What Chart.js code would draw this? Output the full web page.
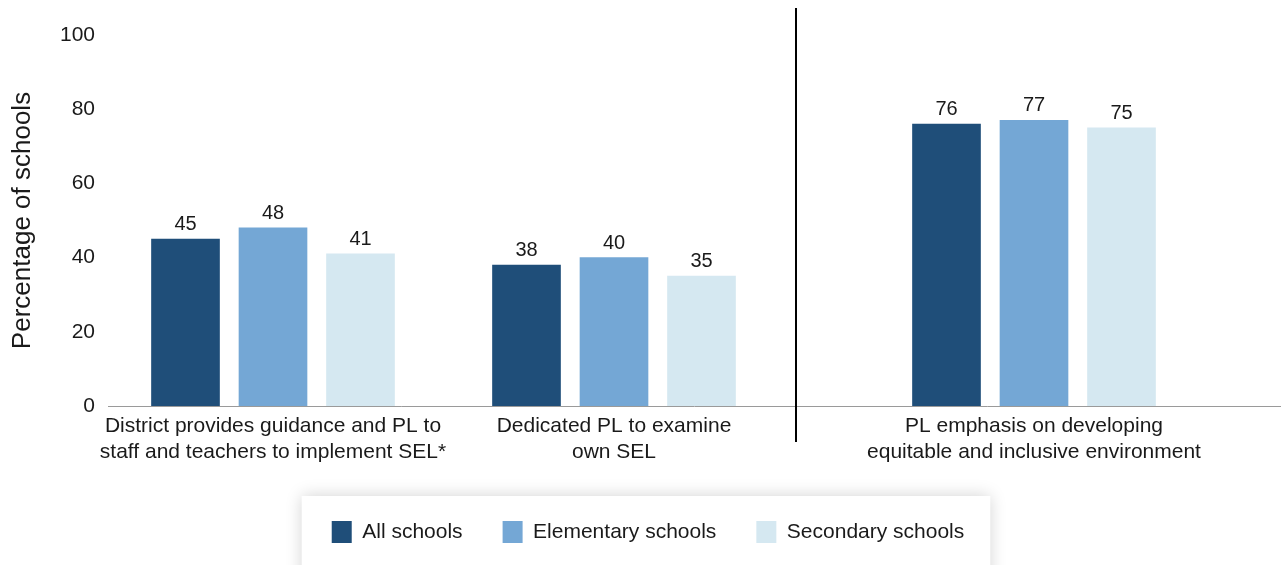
<!DOCTYPE html>
<html>
<head>
<meta charset="utf-8">
<script src="https://cdn.jsdelivr.net/npm/chart.js@4.4.1/dist/chart.umd.min.js"></script>
<style>
  html, body { margin: 0; padding: 0; background: #fff; }
  #wrap { width: 1281px; height: 565px; }
</style>
</head>
<body>
<div id="wrap"><canvas id="c" width="1281" height="565"></canvas></div>
<script>
// ---- data ----
const categories = [
  ['District provides guidance and PL to', 'staff and teachers to implement SEL*'],
  ['Dedicated PL to examine', 'own SEL'],
  ['PL emphasis on developing', 'equitable and inclusive environment']
];
const seriesNames = ['All schools', 'Elementary schools', 'Secondary schools'];
const allSchools = [45, 38, 76];
const elementarySchools = [48, 40, 77];
const secondarySchools = [41, 35, 75];
const yTicks = [0, 20, 40, 60, 80, 100];
const yTitle = 'Percentage of schools';

// ---- layout / style ----
const xSpan = 1172;                    // width of the x scale in its own units
const groupSlots = [165, 506, 926];    // where each group sits on the x scale
const dividerSlot = 688;               // separator between the 2nd and 3rd group
const colors = ['#1f4e79', '#74a7d5', '#d5e8f1'];
const FONT = '"Liberation Sans", Arial, Helvetica, sans-serif';
const TEXT = '#1a1a1a';

Chart.defaults.font.family = FONT;
Chart.defaults.color = TEXT;

const seriesValues = [allSchools, elementarySchools, secondarySchools];
const datasets = seriesNames.map((name, s) => ({
  label: name,
  data: seriesValues[s].map((v, i) => ({ x: groupSlots[i], y: v })),
  backgroundColor: colors[s],
  borderWidth: 0,
  barThickness: 87.5,
  maxBarThickness: 68
}));

const legendShift = {
  id: 'legendShift',
  afterLayout(chart) {
    if (chart.legend) { chart.legend.left += 8; chart.legend.right += 8; }
  }
};

const legendPanel = {
  id: 'legendPanel',
  beforeDraw(chart) {
    const lg = chart.legend;
    if (!lg || !lg.legendHitBoxes || !lg.legendHitBoxes.length) return;
    const hb = lg.legendHitBoxes;
    const last = hb[hb.length - 1];
    const left = hb[0].left - 30;
    const right = last.left + last.width + 26;
    const top = hb[0].top - 25;
    const ctx = chart.ctx;
    ctx.save();
    ctx.shadowColor = 'rgba(0,0,0,0.18)';
    ctx.shadowBlur = 16;
    ctx.fillStyle = '#ffffff';
    ctx.fillRect(left, top, right - left, chart.height - top + 30);
    ctx.restore();
  }
};

const valueLabels = {
  id: 'valueLabels',
  afterDatasetsDraw(chart) {
    const ctx = chart.ctx;
    ctx.save();
    ctx.font = '20px ' + FONT;
    ctx.fillStyle = TEXT;
    ctx.textAlign = 'center';
    ctx.textBaseline = 'alphabetic';
    chart.data.datasets.forEach((ds, di) => {
      chart.getDatasetMeta(di).data.forEach((bar, i) => {
        ctx.fillText(String(ds.data[i].y), bar.x, bar.y - 9);
      });
    });
    ctx.restore();
  }
};

const divider = {
  id: 'divider',
  afterDraw(chart) {
    const x = Math.round(chart.scales.x.getPixelForValue(dividerSlot));
    const area = chart.chartArea;
    const ctx = chart.ctx;
    ctx.save();
    ctx.strokeStyle = '#000';
    ctx.lineWidth = 2;
    ctx.beginPath();
    ctx.moveTo(x, area.top - 27);
    ctx.lineTo(x, area.bottom + 36);
    ctx.stroke();
    ctx.restore();
  }
};

new Chart(document.getElementById('c'), {
  type: 'bar',
  data: { datasets },
  options: {
    responsive: false,
    animation: false,
    layout: { padding: { top: 35, right: 1, bottom: 12, left: 0 } },
    scales: {
      x: {
        type: 'linear',
        min: 0,
        max: xSpan,
        offset: false,
        grid: { display: false, drawTicks: false },
        border: { display: true, color: '#9a9a9a', width: 1 },
        afterBuildTicks(scale) { scale.ticks = groupSlots.map(v => ({ value: v })); },
        afterFit(scale) { scale.height = 75; },
        ticks: {
          autoSkip: false,
          maxRotation: 0,
          minRotation: 0,
          padding: 7,
          color: TEXT,
          font: { size: 21, lineHeight: 26 / 21 },
          callback: (v, i) => categories[i]
        }
      },
      y: {
        min: 0,
        max: 100,
        grid: { display: false, drawTicks: false },
        border: { display: false },
        afterBuildTicks(scale) { scale.ticks = yTicks.map(v => ({ value: v })); },
        afterFit(scale) { scale.width = 108; },
        ticks: { padding: 13, color: TEXT, font: { size: 21 } },
        title: {
          display: true,
          text: yTitle,
          color: TEXT,
          font: { size: 26 },
          padding: { top: 7, bottom: 0 }
        }
      }
    },
    plugins: {
      legend: {
        position: 'bottom',
        labels: {
          boxWidth: 20,
          boxHeight: 22,
          padding: 40,
          color: TEXT,
          font: { size: 21 }
        }
      },
      tooltip: { enabled: false }
    }
  },
  plugins: [legendShift, legendPanel, valueLabels, divider]
});
</script>
</body>
</html>
